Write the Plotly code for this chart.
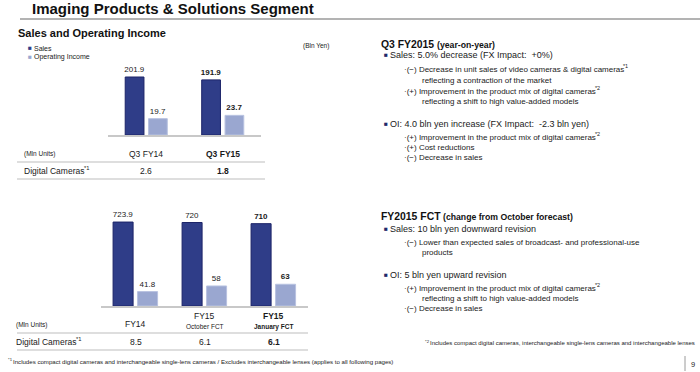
import plotly.graph_objects as go

W, H = 700, 372
FONT = "Liberation Sans, Arial, sans-serif"
NAVY = "#2f3d88"
NAVY_LINE = "#1c2468"
LIGHT = "#9aa7d0"
LIGHT_LINE = "#b8c2e0"
BULLET = "#1f2a6b"
TXT = "#1a1a1a"

# ---------------- data ----------------
q_categories = ["Q3 FY14", "Q3 FY15"]
q_sales = [201.9, 191.9]
q_oi = [19.7, 23.7]
q_cameras = [2.6, 1.8]

fy_categories = ["FY14", "FY15 Oct", "FY15 Jan"]
fy_cat_main = ["FY14", "FY15", "FY15"]
fy_cat_sub = ["", "October FCT", "January FCT"]
fy_sales = [723.9, 720, 710]
fy_oi = [41.8, 58, 63]
fy_cameras = [8.5, 6.1, 6.1]

# Arial / Liberation Sans advance widths (1/1000 em) used to place superscripts
_REG = {" ": 278, "(": 333, ")": 333, "*": 389, "+": 584, ",": 278, "-": 333, ".": 278,
        "/": 278, ":": 278, "&": 667, "%": 889, "·": 278, "−": 584,
        "A": 667, "B": 667, "C": 722, "D": 722, "E": 667, "F": 611, "G": 778, "H": 722,
        "I": 278, "J": 500, "K": 667, "L": 556, "M": 833, "N": 722, "O": 778, "P": 667,
        "Q": 778, "R": 722, "S": 667, "T": 611, "U": 722, "V": 667, "W": 944, "X": 667,
        "Y": 667, "Z": 611,
        "a": 556, "b": 556, "c": 500, "d": 556, "e": 556, "f": 278, "g": 556, "h": 556,
        "i": 222, "j": 222, "k": 500, "l": 222, "m": 833, "n": 556, "o": 556, "p": 556,
        "q": 556, "r": 333, "s": 500, "t": 278, "u": 556, "v": 500, "w": 722, "x": 500,
        "y": 500, "z": 500}
for _d in "0123456789":
    _REG[_d] = 556
_BOLD = {" ": 278, "Q": 778, "F": 611, "Y": 667, "C": 722, "T": 611}
for _d in "0123456789":
    _BOLD[_d] = 556


def tw(s, size, bold=False):
    tab = _BOLD if bold else _REG
    return sum(tab.get(c, 556) for c in s) * size / 1000.0


def px(x):
    return x / W


def py(y):
    return 1 - y / H


def lab(vals):
    out = [f"{v:g}" for v in vals]
    out[-1] = f"<b>{out[-1]}</b>"
    return out


fig = go.Figure()

bar_font = dict(size=8, color=TXT, family=FONT)
fig.add_trace(go.Bar(x=q_categories, y=q_sales, xaxis="x", yaxis="y",
                     marker=dict(color=NAVY, line=dict(color=NAVY_LINE, width=1)),
                     offset=-0.275, width=0.245, text=lab(q_sales), textposition="outside",
                     constraintext="none", cliponaxis=False, textfont=bar_font, showlegend=False))
fig.add_trace(go.Bar(x=q_categories, y=q_oi, xaxis="x", yaxis="y2",
                     marker=dict(color=LIGHT, line=dict(color=LIGHT_LINE, width=1)),
                     offset=0.03, width=0.245, text=lab(q_oi), textposition="outside",
                     constraintext="none", cliponaxis=False, textfont=bar_font, showlegend=False))
fig.add_trace(go.Bar(x=fy_categories, y=fy_sales, xaxis="x2", yaxis="y3",
                     marker=dict(color=NAVY, line=dict(color=NAVY_LINE, width=1)),
                     offset=-0.325, width=0.29, text=lab(fy_sales), textposition="outside",
                     constraintext="none", cliponaxis=False, textfont=bar_font, showlegend=False))
fig.add_trace(go.Bar(x=fy_categories, y=fy_oi, xaxis="x2", yaxis="y4",
                     marker=dict(color=LIGHT, line=dict(color=LIGHT_LINE, width=1)),
                     offset=0.03, width=0.29, text=lab(fy_oi), textposition="outside",
                     constraintext="none", cliponaxis=False, textfont=bar_font, showlegend=False))

axis_common = dict(showgrid=False, zeroline=False, showticklabels=False, ticks="")

fig.update_layout(
    width=W, height=H, margin=dict(l=0, r=0, t=0, b=0),
    paper_bgcolor="white", plot_bgcolor="rgba(0,0,0,0)",
    font=dict(family=FONT, color=TXT),
    barmode="overlay", showlegend=False,
    xaxis=dict(domain=[px(108), px(261)], anchor="y", type="category", range=[-0.5, 1.5],
               showline=True, linecolor="#c8c8c8", linewidth=2, **axis_common),
    yaxis=dict(domain=[py(135), py(38)], anchor="x", range=[0, 337.7], visible=False),
    yaxis2=dict(domain=[py(135), py(38)], anchor="x", overlaying="y", range=[0, 117], visible=False),
    xaxis2=dict(domain=[px(101), px(308)], anchor="y3", type="category", range=[-0.5, 2.5],
                showline=True, linecolor="#c8c8c8", linewidth=2, **axis_common),
    yaxis3=dict(domain=[py(306), py(200)], anchor="x2", range=[0, 914], visible=False),
    yaxis4=dict(domain=[py(306), py(200)], anchor="x2", overlaying="y3", range=[0, 307], visible=False),
)

ann = []
shapes = []


def text(x, y, s, size, anchor="left", bold=False, color=TXT, xref="paper"):
    if bold:
        s = f"<b>{s}</b>"
    ann.append(dict(x=(px(x) if xref == "paper" else x), y=py(y), xref=xref, yref="paper",
                    text=s, showarrow=False, xanchor=anchor, yanchor="middle",
                    font=dict(size=size, color=color, family=FONT)))


def text_sup(x, y, s, sup, size, color=TXT):
    """left-anchored text followed by a small raised note marker"""
    text(x, y, s, size, color=color)
    text(x + tw(s, size) - 0.5, y - size * 0.35, sup, size * 0.68, color=color)


def bullet(x, y, s, size=9):
    text(x, y - 0.5, "■", 6.5, color=BULLET)
    text(x + 6, y, s, size)


def hline(x0, x1, y, color="#bdbdbd", width=1):
    shapes.append(dict(type="line", xref="paper", yref="paper", x0=px(x0), x1=px(x1),
                       y0=py(y), y1=py(y), line=dict(color=color, width=width)))


# header
text(30, 9, "Imaging Products &amp; Solutions Segment", 15, bold=True, color="#111")
hline(20, 700, 19, color="#9a9a9a", width=1.5)
text(16, 33, "Sales and Operating Income", 11, bold=True, color="#111")

# legend
text(26, 47.5, "■", 6.5, color=NAVY)
text(32, 48, "Sales", 7)
text(26, 56.5, "■", 6.5, color=LIGHT)
text(32, 57, "Operating Income", 7)
text(331, 46, "(Bln Yen)", 6.5, anchor="right")

# top table
text(22, 154, "(Mln Units)", 6.5)
for i, c in enumerate(q_categories):
    text(c, 154, c, 8.5, anchor="center", bold=(i == len(q_categories) - 1), xref="x")
hline(17, 265, 162)
text_sup(22, 171, "Digital Cameras", "*1", 8.5)
for i, (c, v) in enumerate(zip(q_categories, q_cameras)):
    text(c, 171, f"{v:g}", 8.5, anchor="center", bold=(i == len(q_categories) - 1), xref="x")
hline(17, 265, 179)

# bottom table
text(14, 325, "(Mln Units)", 6.5)
for i, (c, m, s) in enumerate(zip(fy_categories, fy_cat_main, fy_cat_sub)):
    last = i == len(fy_categories) - 1
    ann.append(dict(x=c, y=py(316 if s else 324), xref="x2", yref="paper",
                    text=(f"<b>{m}</b>" if last else m), showarrow=False,
                    xanchor="center", yanchor="middle", font=dict(size=8.5, color=TXT, family=FONT)))
    if s:
        ann.append(dict(x=c, y=py(326.5), xref="x2", yref="paper",
                        text=(f"<b>{s}</b>" if last else s), showarrow=False,
                        xanchor="center", yanchor="middle", font=dict(size=6.5, color=TXT, family=FONT)))
hline(17, 308, 333)
text_sup(14, 342, "Digital Cameras", "*1", 8.5)
for i, (c, v) in enumerate(zip(fy_categories, fy_cameras)):
    last = i == len(fy_categories) - 1
    ann.append(dict(x=c, y=py(342), xref="x2", yref="paper",
                    text=(f"<b>{v:g}</b>" if last else f"{v:g}"), showarrow=False,
                    xanchor="center", yanchor="middle", font=dict(size=8.5, color=TXT, family=FONT)))
hline(17, 308, 350)

# right text blocks
h1 = "Q3 FY2015 "
text(379, 44, h1, 10.4, bold=True, color="#111")
text(379 + tw(h1, 10.4, True), 44.5, "(year-on-year)", 8.7, bold=True, color="#111")
bullet(382, 55.5, "Sales: 5.0% decrease (FX Impact:  +0%)")
text_sup(402, 69, "·(−) Decrease in unit sales of video cameras &amp; digital cameras".replace("&amp;", "&"), "*1", 8)
text(420, 80, "reflecting a contraction of the market", 8)
text_sup(402, 91, "·(+) Improvement in the product mix of digital cameras", "*2", 8)
text(420, 102, "reflecting a shift to high value-added models", 8)
bullet(382, 124, "OI: 4.0 bln yen increase (FX Impact:  -2.3 bln yen)")
text_sup(402, 137, "·(+) Improvement in the product mix of digital cameras", "*2", 8)
text(402, 147, "·(+) Cost reductions", 8)
text(402, 157, "·(−) Decrease in sales", 8)

h2 = "FY2015 FCT "
text(379, 216, h2, 10.4, bold=True, color="#111")
text(379 + tw(h2, 10.4, True), 216.5, "(change from October forecast)", 8.7, bold=True, color="#111")
bullet(382, 229, "Sales: 10 bln yen downward revision")
text(402, 242, "·(−) Lower than expected sales of broadcast- and professional-use", 8)
text(420, 253, "products", 8)
bullet(382, 275, "OI: 5 bln yen upward revision")
text_sup(402, 288, "·(+) Improvement in the product mix of digital cameras", "*2", 8)
text(420, 298, "reflecting a shift to high value-added models", 8)
text(402, 308, "·(−) Decrease in sales", 8)

# footnotes
fn2 = "Includes compact digital cameras, interchangeable single-lens cameras and interchangeable lenses"
fn1 = ("Includes compact digital cameras and interchangeable single-lens cameras / "
       "Excludes interchangeable lenses (applies to all following pages)")
x2 = 694 - tw(fn2, 6) - 6
text(x2, 341, "*2", 4.2)
text(x2 + 5, 343, fn2, 6)
text(6, 359, "*1", 4.2)
text(11, 361, fn1, 6.1)
text(697, 364, "9", 7.5, anchor="right")
shapes.append(dict(type="line", xref="paper", yref="paper", x0=px(685), x1=px(685),
                   y0=py(356), y1=py(371), line=dict(color="#9a9a9a", width=1)))

fig.update_layout(annotations=ann, shapes=shapes)
fig.write_html("out.html", config={"displayModeBar": False},
               post_script="document.body.style.margin='0';document.body.style.overflow='hidden';")
